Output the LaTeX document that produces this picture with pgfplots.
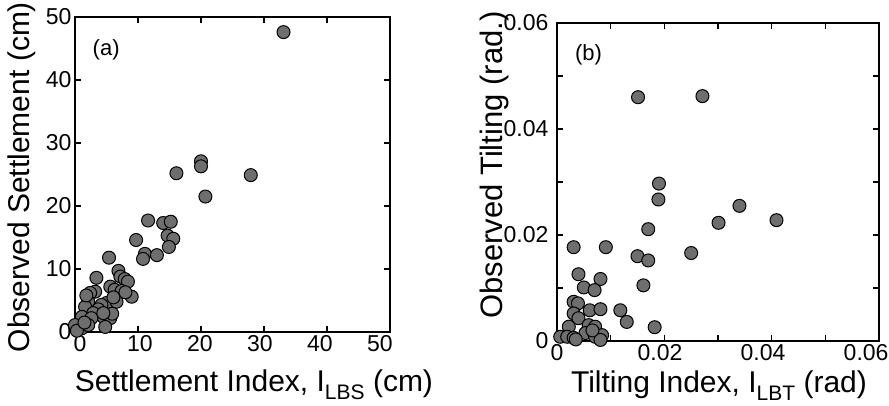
\documentclass[border=0pt]{standalone}
\usepackage{fontspec}
\setmainfont{Liberation Sans}
\usepackage{pgfplots}
\pgfplotsset{compat=1.18}

\definecolor{dotgray}{RGB}{110,110,110}

\pgfplotsset{
  panel/.style={
    scale only axis,
    axis line style={line width=1.6pt},
    tick style={line width=1.6pt, black},
    tick align=inside,
    major tick length=6pt,
    minor tick length=6pt,
    ticklabel style={font=\fontsize{23}{27}\selectfont},
    label style={font=\fontsize{30}{34}\selectfont},
    /pgf/number format/assume math mode=true,
    clip=false,
  },
  dots/.style={only marks, mark=*, mark size=6.5pt,
    mark options={fill=dotgray, draw=black, line width=1pt}},
}

\newcommand{\sub}[1]{\raisebox{-0.28em}{\fontsize{21}{22}\selectfont #1}}

\begin{document}
\begin{tikzpicture}[x=1pt,y=1pt]
\path[use as bounding box] (0,0) rectangle (889,405);

% (a) settlement
\begin{axis}[panel, at={(75pt,73pt)}, anchor=south west,
  width=315pt, height=315pt,
  xmin=0, xmax=50, ymin=0, ymax=50,
  xtick={0,10,...,50}, ytick={0,10,...,50},
  xticklabel style={xshift={5pt-3pt*\ticknum}},
  xlabel={Settlement Index, I\sub{LBS} (cm)},
  ylabel={Observed Settlement (cm)},
  xlabel style={at={(axis description cs:0.568,-0.188)}, anchor=base},
  ylabel style={at={(axis description cs:-0.168,0.492)}, anchor=center},
]
\addplot[dots] table {
x y
33.1 47.6
20.0 27.1
20.0 26.3
16.1 25.2
27.9 24.9
20.7 21.5
11.6 17.7
14.0 17.3
15.2 17.5
14.7 15.3
15.6 14.8
14.9 13.5
9.7 14.6
11.1 12.4
10.8 11.6
13.0 12.2
5.4 11.8
3.4 8.6
6.9 9.7
7.2 8.8
7.9 8.4
8.4 8.0
5.6 7.2
6.3 6.7
7.4 6.5
9.0 5.6
8.0 6.3
3.2 6.4
2.4 6.2
2.1 4.8
1.6 4.0
5.0 4.6
6.6 4.8
4.2 4.3
3.7 3.6
2.9 3.0
1.1 2.4
1.1 0.6
0.0 1.1
4.5 2.4
5.6 2.2
4.8 0.8
5.9 2.9
2.6 2.2
2.1 1.1
0.3 0.2
1.8 5.8
6.1 5.5
4.5 3.0
1.5 1.5
};
\node[anchor=west, font=\fontsize{22}{26}\selectfont] at (rel axis cs:0.045,0.895) {(a)};
\end{axis}

% (b) tilting
\begin{axis}[panel, at={(557pt,64pt)}, anchor=south west,
  width=322pt, height=318pt,
  xmin=0, xmax=0.06, ymin=0, ymax=0.06,
  xtick={0,0.02,0.04,0.06}, xticklabels={0,0.02,0.04,0.06},
  ytick={0,0.02,0.04,0.06}, yticklabels={0,0.02,0.04,0.06},
  minor xtick={0.01,0.03,0.05}, minor ytick={0.01,0.03,0.05},
  scaled ticks=false,
  xticklabel style={xshift={-4.3pt*\ticknum}},
  yticklabel style={xshift=-5pt},
  xlabel={Tilting Index, I\sub{LBT} (rad)},
  ylabel={Observed Tilting (rad.)},
  xlabel style={at={(axis description cs:0.503,-0.162)}, anchor=base},
  ylabel style={at={(axis description cs:-0.193,0.553)}, anchor=center,
    font=\fontsize{31}{35}\selectfont},
]
\addplot[dots] table {
x y
0.0151 0.0460
0.0271 0.0462
0.0190 0.0297
0.0189 0.0267
0.0340 0.0255
0.0301 0.0223
0.0409 0.0228
0.0170 0.0211
0.0031 0.0177
0.0091 0.0177
0.0250 0.0166
0.0150 0.0160
0.0170 0.0152
0.0161 0.0105
0.0182 0.0026
0.0040 0.0126
0.0081 0.0117
0.0050 0.0101
0.0070 0.0096
0.0031 0.0074
0.0039 0.0071
0.0061 0.0058
0.0081 0.0060
0.0118 0.0058
0.0130 0.0036
0.0031 0.0052
0.0040 0.0043
0.0022 0.0027
0.0059 0.0030
0.0071 0.0027
0.0006 0.0008
0.0019 0.0008
0.0031 0.0006
0.0053 0.0015
0.0071 0.0008
0.0084 0.0011
0.0081 0.0002
0.0035 0.0003
0.0066 0.0020
};
\node[anchor=west, font=\fontsize{22}{26}\selectfont] at (rel axis cs:0.045,0.9) {(b)};
\end{axis}
\end{tikzpicture}
\end{document}
